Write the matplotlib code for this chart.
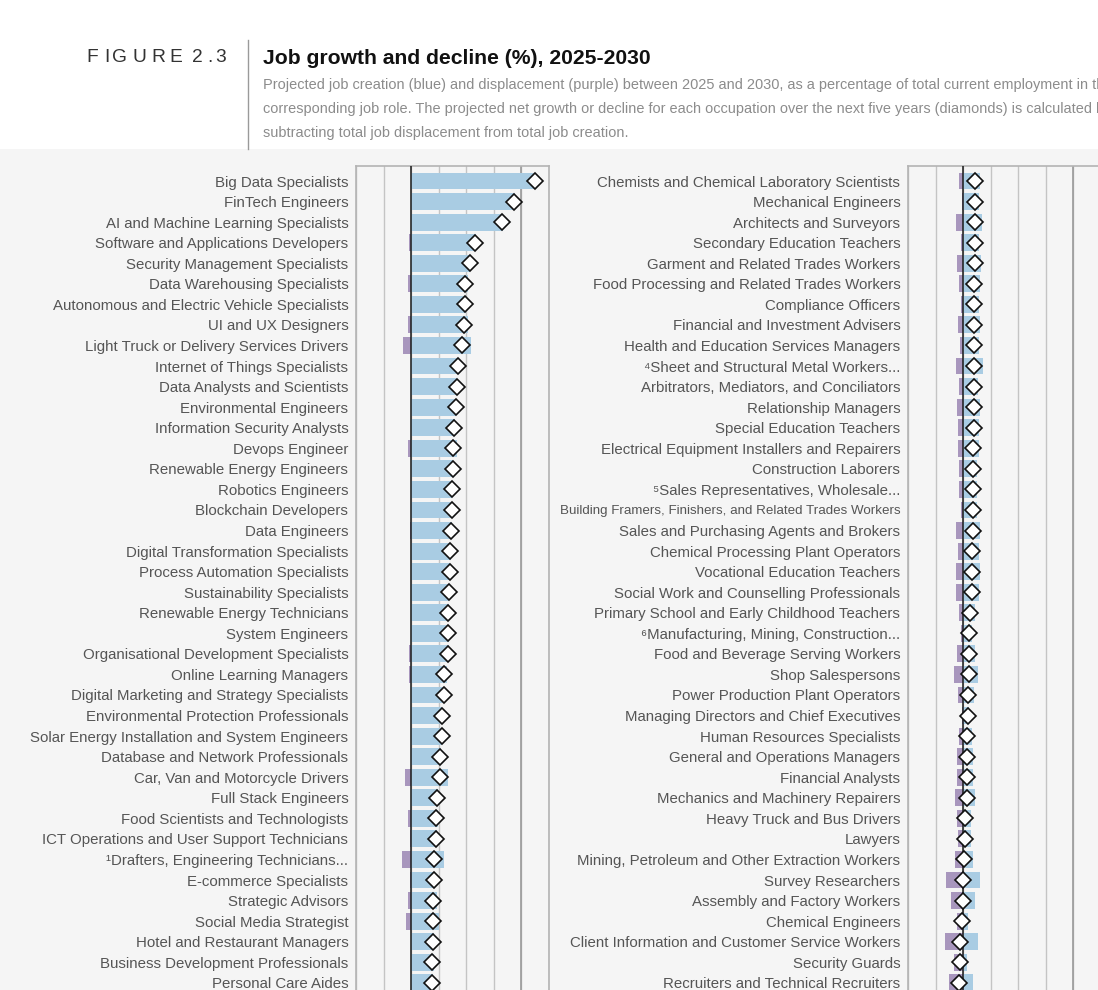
import numpy as np
import matplotlib.pyplot as plt

# occupations shown in the left column (fastest growing first)
left_jobs = [
    'Big Data Specialists', 'FinTech Engineers', 'AI and Machine Learning Specialists',
    'Software and Applications Developers', 'Security Management Specialists',
    'Data Warehousing Specialists', 'Autonomous and Electric Vehicle Specialists',
    'UI and UX Designers', 'Light Truck or Delivery Services Drivers',
    'Internet of Things Specialists', 'Data Analysts and Scientists',
    'Environmental Engineers', 'Information Security Analysts', 'Devops Engineer',
    'Renewable Energy Engineers', 'Robotics Engineers', 'Blockchain Developers',
    'Data Engineers', 'Digital Transformation Specialists',
    'Process Automation Specialists', 'Sustainability Specialists',
    'Renewable Energy Technicians', 'System Engineers',
    'Organisational Development Specialists', 'Online Learning Managers',
    'Digital Marketing and Strategy Specialists', 'Environmental Protection Professionals',
    'Solar Energy Installation and System Engineers', 'Database and Network Professionals',
    'Car, Van and Motorcycle Drivers', 'Full Stack Engineers',
    'Food Scientists and Technologists', 'ICT Operations and User Support Technicians',
    '\u00b9Drafters, Engineering Technicians...', 'E-commerce Specialists',
    'Strategic Advisors', 'Social Media Strategist', 'Hotel and Restaurant Managers',
    'Business Development Professionals', 'Personal Care Aides',
]
left_creation = [112, 94, 83, 59, 53, 52, 49.5, 51.4, 54.4, 43,
                 42, 41, 40, 41.7, 38, 37.5, 37, 37, 36, 35,
                 34, 34, 34, 34, 32.4, 31, 28, 28, 27, 33.3,
                 24.7, 24.7, 23.8, 29.8, 22, 23.8, 25.3, 21, 21, 20]
left_displacement = [0, 0, 0, 1.5, 0, 3.3, 0, 3.3, 7.8, 0,
                     0, 0, 0, 2.4, 0, 0, 0, 1, 0, 0,
                     0, 0, 0, 1.5, 1.5, 0.5, 0, 0, 0, 6,
                     0, 2.7, 0.6, 8.1, 0.6, 2.7, 4.5, 0, 0, 0]
left_net = [112, 93, 82, 57.5, 53, 48.6, 48.6, 48, 46.2, 42.6,
            41.4, 40.5, 39.3, 38.1, 37.8, 37.2, 36.9, 36, 35.4, 34.8,
            33.9, 33.6, 33, 33, 29.7, 29.4, 27.9, 27.6, 26.4, 26.4,
            23.2, 22.6, 22.6, 20.8, 20.5, 20.2, 19.6, 19.6, 19, 18.7]

# occupations shown in the right column
right_jobs = [
    'Chemists and Chemical Laboratory Scientists', 'Mechanical Engineers',
    'Architects and Surveyors', 'Secondary Education Teachers',
    'Garment and Related Trades Workers', 'Food Processing and Related Trades Workers',
    'Compliance Officers', 'Financial and Investment Advisers',
    'Health and Education Services Managers', '\u2074Sheet and Structural Metal Workers...',
    'Arbitrators, Mediators, and Conciliators', 'Relationship Managers',
    'Special Education Teachers', 'Electrical Equipment Installers and Repairers',
    'Construction Laborers', '\u2075Sales Representatives, Wholesale...',
    'Building Framers, Finishers, and Related Trades Workers',
    'Sales and Purchasing Agents and Brokers', 'Chemical Processing Plant Operators',
    'Vocational Education Teachers', 'Social Work and Counselling Professionals',
    'Primary School and Early Childhood Teachers', '\u2076Manufacturing, Mining, Construction...',
    'Food and Beverage Serving Workers', 'Shop Salespersons',
    'Power Production Plant Operators', 'Managing Directors and Chief Executives',
    'Human Resources Specialists', 'General and Operations Managers',
    'Financial Analysts', 'Mechanics and Machinery Repairers',
    'Heavy Truck and Bus Drivers', 'Lawyers',
    'Mining, Petroleum and Other Extraction Workers', 'Survey Researchers',
    'Assembly and Factory Workers', 'Chemical Engineers',
    'Client Information and Customer Service Workers', 'Security Guards',
    'Recruiters and Technical Recruiters',
]
right_creation = [15.6, 14.7, 16.8, 14.7, 16.5, 15, 14.4, 15.3, 14.1, 17.6,
                  13.5, 15, 14.1, 14.1, 12.9, 12.9, 12.6, 15.6, 14.4, 15.3,
                  14.7, 10.3, 7.6, 11.2, 13.8, 9.4, 5.5, 7.6, 8.5, 8.5,
                  11.2, 6.8, 6.8, 8.5, 15.6, 10.3, 4.7, 13.8, 3.8, 8.5]
right_displacement = [3.8, 0.9, 6.5, 2, 5.6, 3.8, 1.8, 4.7, 2.6, 6.5,
                      3.8, 5.6, 4.7, 4.7, 3.8, 3.8, 2, 6.5, 4.7, 6.5,
                      6.5, 3.8, 2, 5.6, 8.2, 4.7, 0.9, 3.8, 5.6, 5.6,
                      7.4, 5.6, 4.7, 7.4, 15.3, 10.9, 5.6, 16.2, 8.2, 12.6]
right_net = [10.3, 10.3, 10.3, 10.3, 10.3, 10, 10, 10, 9.7, 9.7,
             9.4, 9.4, 9.4, 9.1, 9.1, 8.8, 8.8, 8.5, 8.2, 8.2,
             8.2, 5.9, 5.6, 5.3, 5, 4.4, 4.7, 3.5, 3.2, 3.2,
             3.2, 2.1, 1.8, 1.2, -0.3, -0.3, -0.6, -2.6, -2.6, -3.8]

BLUE = '#a9cce3'
PURPLE = '#a896bd'
BG = '#f5f5f5'
FONT = ['Liberation Sans', 'DejaVu Sans']

plt.rcParams['font.family'] = FONT

W, H = 1098, 990
fig = plt.figure(figsize=(W / 100, H / 100), dpi=100)
fig.patch.set_facecolor('white')

# grey panel behind the chart
fig.patches.append(plt.Rectangle((0, 0), 1, 1 - 149 / H, transform=fig.transFigure,
                                 facecolor=BG, edgecolor='none', zorder=-10))

# header (letter-spaced label)
fig_label = 'FIGURE 2.3'
fig_label_x = [86, 104, 112, 132, 151, 169, 0, 192, 207, 215]
for ch, px in zip(fig_label, fig_label_x):
    if ch != ' ':
        fig.text(px / W, 1 - 57 / H, ch, fontsize=13.8, color='#333333',
                 va='center', ha='left')
fig.add_artist(plt.Line2D([248 / W, 248 / W], [1 - 40 / H, 1 - 149 / H],
                          transform=fig.transFigure, color='#9a9a9a', lw=1))
fig.text(263 / W, 1 - 58 / H, 'Job growth and decline (%), 2025-2030',
         fontsize=15.2, fontweight='bold', color='#111111', va='center', ha='left')
# the description runs past the right edge of the crop, as in the original
subtitle = [
    'Projected job creation (blue) and displacement (purple) between 2025 and 2030, as a percentage of total current employment in the',
    'corresponding job role. The projected net growth or decline for each occupation over the next five years (diamonds) is calculated by',
    'subtracting total job displacement from total job creation.',
]
for k, line in enumerate(subtitle):
    fig.text(263 / W, 1 - (85 + 24 * k) / H, line, fontsize=10.45,
             color='#8c8c8c', va='center', ha='left')


def draw_panel(left_px, jobs, creation, displacement, net):
    ax = fig.add_axes([left_px / W, 0, 193 / W, (H - 166) / H])
    ax.set_facecolor(BG)
    y = np.arange(len(jobs))
    ax.barh(y, creation, height=0.82, color=BLUE, zorder=2)
    ax.barh(y, -np.array(displacement), height=0.82, color=PURPLE, zorder=2)
    ax.axvline(0, color='#1a1a1a', lw=1.1, zorder=3)
    ax.axvline(100, color='#9a9a9a', lw=1.2, zorder=1)
    ax.plot(net, y, linestyle='none', marker='D', markersize=7.8,
            markerfacecolor='white', markeredgecolor='#111111',
            markeredgewidth=1.2, zorder=4)
    ax.set_xlim(-50, 125)
    ax.set_ylim((H - 181) / 20.56, -15 / 20.56)
    ax.set_xticks(np.arange(-50, 126, 25))
    ax.set_xticklabels([])
    ax.grid(axis='x', color='#c4c4c4', lw=1, zorder=0)
    ax.set_axisbelow(True)
    ax.set_yticks(y)
    ax.set_yticklabels(jobs, fontsize=10.8, color='#555555')
    ax.tick_params(length=0, pad=5.5)
    for s in ['left', 'top', 'right']:
        ax.spines[s].set_color('#b4b4b4')
        ax.spines[s].set_linewidth(1.2)
    ax.spines['bottom'].set_visible(False)
    return ax


axl = draw_panel(356, left_jobs, left_creation, left_displacement, left_net)
axr = draw_panel(908, right_jobs, right_creation, right_displacement, right_net)

# one long label is set in a narrower face in the original
for lbl in axr.get_yticklabels():
    if lbl.get_text().startswith('Building Framers'):
        lbl.set_fontsize(9.6)

fig.savefig('out.png', dpi=100, facecolor=fig.get_facecolor())
